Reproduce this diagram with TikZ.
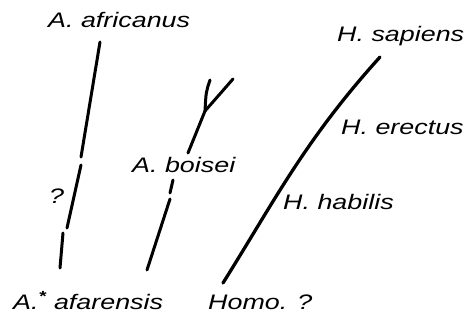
\documentclass[tikz,border=0pt]{standalone}
\usepackage{fontspec}
\setmainfont{Liberation Sans}
\begin{document}
\begin{tikzpicture}[x=1pt,y=-1pt,
  lbl/.style={inner sep=0pt,anchor=base west,font=\fontsize{21}{24}\selectfont\itshape},
  stem/.style={line width=3pt,line cap=round}]
\useasboundingbox (0,0) rectangle (470,320);
\newcommand{\wide}[1]{\scalebox{1.28}[1]{#1}}
% labels
\node[lbl] (afr) at (48,28) {\wide{A. africanus}};
\node[lbl] (sap) at (337,42) {\wide{H. sapiens}};
\node[lbl] (ere) at (341,135) {\wide{H. erectus}};
\node[lbl] (boi) at (132,172) {\wide{A. boisei}};
\node[lbl] (hab) at (283,209) {\wide{H. habilis}};
\node[lbl] (q) at (49,203) {\wide{?}};
\node[lbl] (afa) at (13,309) {\wide{A.\textsuperscript{\textbf{*}} afarensis}};
\node[lbl] (hom) at (208,309) {\wide{Homo. ?}};
% A. africanus lineage
\coordinate (a1) at (100,42);
\coordinate (a2) at (81,157);
\coordinate (a3) at (81,165);
\coordinate (a4) at (67,228);
\coordinate (a5) at (63,233);
\coordinate (a6) at (60,268);
\draw[stem] (a1) -- (a2);
\draw[stem] (a3) -- (a4);
\draw[stem] (a5) -- (a6);
% A. boisei lineage
\coordinate (bl) at (210,80);
\coordinate (br) at (233,79);
\coordinate (bj) at (205,111);
\coordinate (bs) at (188,153);
\coordinate (b1) at (173,180);
\coordinate (b2) at (170,193);
\coordinate (b3) at (170,199);
\coordinate (b4) at (147,270);
\draw[stem] (bl) .. controls (206,92) .. (bj);
\draw[stem] (br) -- (bj) -- (bs);
\draw[stem] (b1) -- (b2);
\draw[stem] (b3) -- (b4);
% Homo lineage
\coordinate (h0) at (223,283);
\coordinate (h1) at (380,57);
\draw[stem,line width=3.3pt] (h0) .. controls (275,200) and (305,140) .. (h1);
\end{tikzpicture}
\end{document}
